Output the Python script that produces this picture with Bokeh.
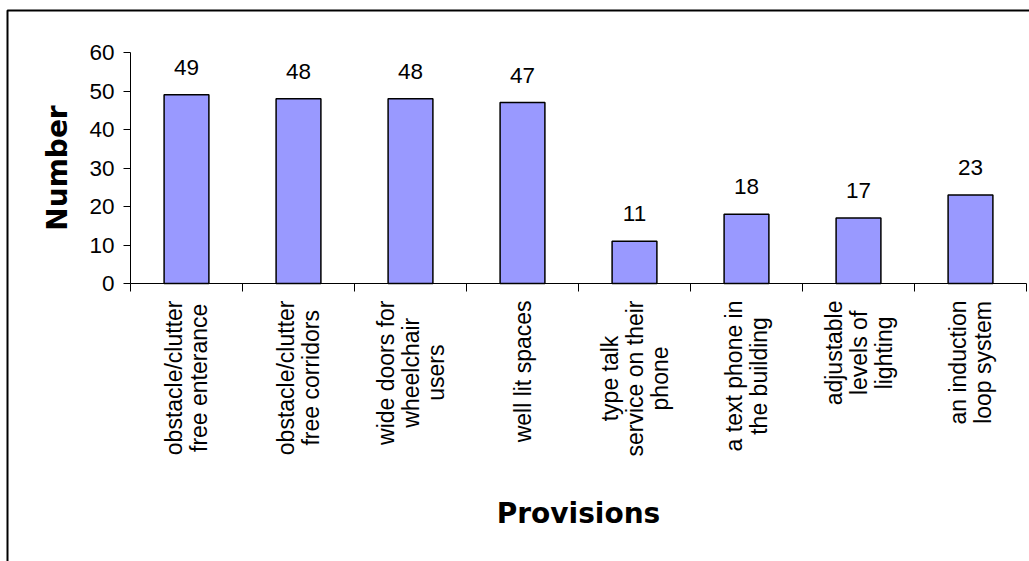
import math

from bokeh.core.properties import value
from bokeh.embed import file_html
from bokeh.models import (BoxAnnotation, ColumnDataSource, CustomJSTickFormatter,
                          FixedTicker, LabelSet, LinearAxis, Range1d)
from bokeh.plotting import figure
from bokeh.resources import INLINE

# Survey results: how many respondents named each provision
provision_lines = [
    ["obstacle/clutter", "free enterance"],
    ["obstacle/clutter", "free corridors"],
    ["wide doors for", "wheelchair", "users"],
    ["well lit spaces"],
    ["type talk", "service on their", "phone"],
    ["a text phone in", "the building"],
    ["adjustable", "levels of", "lighting"],
    ["an induction", "loop system"],
]
counts = [49, 48, 48, 47, 11, 18, 17, 23]
y_ticks = [0, 10, 20, 30, 40, 50, 60]
Y_MAX = 60

# Page geometry (pixels)
W, H = 1029, 561
PLOT_LEFT, PLOT_RIGHT = 130, 1026     # x of first / last category boundary
PLOT_TOP, PLOT_BASE = 52, 283         # y of the 60 line / the zero line

# Styling
BAR_FILL = "#9999FF"
NUM_FONT = "Liberation Sans"
CAT_FONT = "Liberation Sans"
CAT_SIZE = 23          # px
CAT_LINE = 25          # px between wrapped lines
CAT_GAP = 17           # px from the axis line to the label block
TITLE_FONT = "DejaVu Sans"

# Liberation Sans advance widths (em) used to size the wrapped category labels
_W = {
    " ": .278, "/": .278, "a": .556, "b": .556, "c": .500, "d": .556, "e": .556,
    "f": .278, "g": .556, "h": .556, "i": .222, "j": .222, "k": .500, "l": .222,
    "m": .833, "n": .556, "o": .556, "p": .556, "r": .333, "s": .500, "t": .278,
    "u": .556, "v": .500, "w": .722, "x": .500, "y": .500,
}


def text_width(s, size):
    return sum(_W.get(ch, .556) for ch in s) * size


n = len(counts)
centers = [i + 0.5 for i in range(n)]

# The frame fills the whole page; the axes sit at fixed data locations
px_x = (PLOT_RIGHT - PLOT_LEFT) / n          # pixels per category
px_y = (PLOT_BASE - PLOT_TOP) / Y_MAX        # pixels per count
x_range = Range1d(-PLOT_LEFT / px_x, n + (W - PLOT_RIGHT) / px_x)
y_range = Range1d(-(H - PLOT_BASE) / px_y, Y_MAX + PLOT_TOP / px_y)

p = figure(
    width=W, height=H, x_range=x_range, y_range=y_range,
    output_backend="svg", toolbar_location=None,
    x_axis_type=None, y_axis_type=None,
    min_border=0, min_border_left=0, min_border_right=0,
    min_border_top=0, min_border_bottom=0,
)
p.outline_line_color = None
p.background_fill_color = "white"
p.border_fill_color = "white"

# Bars
bars = ColumnDataSource(dict(x=centers, count=counts, label=[str(c) for c in counts]))
p.vbar(x="x", top="count", width=0.4, bottom=0, source=bars,
       fill_color=BAR_FILL, line_color="black", line_width=1.5)

# Value labels above the bars
p.add_layout(LabelSet(
    x="x", y="count", text="label", source=bars, y_offset=20,
    text_align="center", text_baseline="alphabetic",
    text_font=value(NUM_FONT), text_font_size="22.5px", text_color="black",
))

# Y axis
ya = LinearAxis(fixed_location=0, bounds=(0, Y_MAX))
ya.ticker = FixedTicker(ticks=y_ticks)
ya.major_tick_out = 7
ya.major_tick_in = 0
ya.minor_tick_line_color = None
ya.axis_line_color = "black"
ya.major_tick_line_color = "black"
ya.major_label_standoff = 9
ya.major_label_text_font = NUM_FONT
ya.major_label_text_font_size = "22.5px"
ya.major_label_text_color = "black"
ya.axis_label = "Number"
ya.axis_label_text_font = TITLE_FONT
ya.axis_label_text_font_style = "bold"
ya.axis_label_text_font_size = "28px"
ya.axis_label_text_color = "black"
ya.axis_label_standoff = 12
p.add_layout(ya, "left")

# X axis: ticks on the category boundaries, labels drawn separately
xa = LinearAxis(fixed_location=0, bounds=(0, n))
xa.ticker = FixedTicker(ticks=list(range(n + 1)))
xa.formatter = CustomJSTickFormatter(code="return ''")
xa.major_label_text_font_size = "0px"
xa.major_tick_out = 8
xa.major_tick_in = 0
xa.minor_tick_line_color = None
xa.axis_line_color = "black"
xa.major_tick_line_color = "black"
xa.axis_label = "Provisions"
xa.axis_label_text_font = TITLE_FONT
xa.axis_label_text_font_style = "bold"
xa.axis_label_text_font_size = "28px"
xa.axis_label_text_color = "black"
xa.axis_label_standoff = 205
p.add_layout(xa, "below")

# Wrapped, rotated category labels: block hangs below the axis,
# lines centred on each other
lx, ly, lt = [], [], []
for c, lines in zip(centers, provision_lines):
    block = max(text_width(s, CAT_SIZE) for s in lines)
    k = len(lines)
    for j, s in enumerate(lines):
        lx.append(c + (j - (k - 1) / 2) * CAT_LINE / px_x)
        ly.append(-(CAT_GAP + block / 2) / px_y)
        lt.append(s)
p.text(x=lx, y=ly, text=lt, angle=math.pi / 2,
       text_align="center", text_baseline="middle",
       text_font=value(CAT_FONT), text_font_size=f"{CAT_SIZE}px", text_color="black")

# Chart-area border (top and left edges)
p.add_layout(BoxAnnotation(
    left=7, right=W + 50, top=10, bottom=H + 50,
    left_units="canvas", right_units="canvas", top_units="canvas", bottom_units="canvas",
    fill_color=None, fill_alpha=0, line_color="black", line_alpha=1, line_width=2,
))

open("out.html", "w").write(file_html(p, INLINE))
